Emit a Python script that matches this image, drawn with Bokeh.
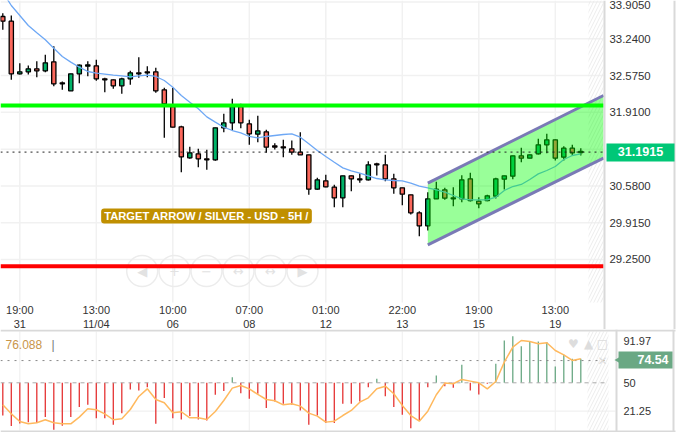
import math
from bokeh.plotting import figure
from bokeh.layouts import column
from bokeh.embed import file_html
from bokeh.resources import INLINE
from bokeh.models import Range1d, FixedTicker, NumeralTickFormatter, Label
from bokeh.core.properties import value

FONT = "Liberation Sans"

# ---- price candles (one row per bar)
opens = [33.644,33.559,32.607,32.643,32.697,32.661,32.824,32.444,32.299,32.607,32.746,32.752,32.516,32.498,32.390,32.516,32.625,32.643,32.643,32.317,32.016,31.648,31.088,31.160,31.070,31.052,31.630,31.721,32.016,31.703,31.516,31.558,31.305,31.287,31.251,31.190,31.142,30.521,30.672,30.557,30.364,30.762,30.708,30.690,30.979,30.961,30.708,30.545,30.419,30.093,29.858,30.346,30.509,30.364,30.346,30.708,30.304,30.316,30.394,30.702,30.756,31.124,31.082,31.160,31.323,31.413,31.100,31.263,31.202]
highs = [33.704,33.662,32.800,32.758,32.836,32.950,33.107,32.468,32.607,32.776,32.836,32.860,32.534,32.504,32.534,32.661,32.908,32.746,32.715,32.354,32.354,31.666,31.287,31.251,31.233,31.630,31.883,32.155,32.064,31.775,31.847,31.594,31.353,31.413,31.401,31.552,31.142,30.726,30.780,30.599,30.762,30.768,30.810,31.027,30.997,31.142,30.798,30.545,30.419,30.123,30.467,30.654,30.545,30.557,30.774,30.816,30.376,30.419,30.726,30.762,31.124,31.269,31.148,31.431,31.522,31.419,31.299,31.323,31.263]
lows = [33.403,32.498,32.595,32.595,32.547,32.637,32.384,32.317,32.299,32.438,32.565,32.480,32.275,32.336,32.245,32.408,32.534,32.547,32.263,31.449,31.636,30.829,31.070,30.919,30.871,31.034,31.552,31.582,31.624,31.323,31.371,31.178,31.238,31.100,31.142,31.142,30.419,30.509,30.557,30.196,30.196,30.485,30.636,30.678,30.768,30.666,30.437,30.232,30.063,29.671,29.774,30.346,30.328,30.214,30.286,30.298,30.178,30.304,30.352,30.515,30.702,31.009,31.082,31.148,31.172,31.040,31.040,31.130,31.130]
closes = [33.559,32.607,32.643,32.697,32.661,32.806,32.426,32.426,32.607,32.764,32.770,32.516,32.498,32.390,32.516,32.625,32.607,32.625,32.299,32.064,31.642,31.106,31.178,31.070,31.052,31.630,31.721,32.016,31.721,31.522,31.576,31.281,31.281,31.269,31.190,31.142,30.521,30.690,30.563,30.364,30.762,30.708,30.690,30.961,30.961,30.708,30.545,30.431,30.093,29.858,30.346,30.521,30.358,30.346,30.690,30.316,30.256,30.400,30.708,30.762,31.124,31.082,31.142,31.323,31.413,31.082,31.263,31.178,31.184]
sma = [34.084,33.843,33.662,33.481,33.348,33.222,33.071,32.920,32.818,32.727,32.649,32.619,32.601,32.583,32.571,32.553,32.571,32.583,32.559,32.486,32.366,32.215,32.094,31.974,31.829,31.733,31.642,31.582,31.540,31.474,31.449,31.474,31.492,31.510,31.522,31.462,31.341,31.220,31.112,31.009,30.907,30.853,30.810,30.762,30.714,30.690,30.678,30.672,30.630,30.575,30.545,30.509,30.467,30.407,30.346,30.328,30.328,30.328,30.376,30.497,30.569,30.606,30.696,30.798,30.859,30.931,31.058,31.130,31.160]

# ---- oscillator pane
stems = [16.9,6.2,8.9,10.2,9.2,15.3,2.4,6.5,15.3,25.4,27.7,14.2,14.2,7.5,19.3,43.3,42.2,45.6,8.5,34.5,14.2,12.9,16.3,12.9,11.9,37.9,41.6,55.7,39.5,33.8,38.9,24.4,31.1,28.8,27.7,22.0,7.5,16.9,9.2,9.2,28.8,28.8,31.1,45.6,54.0,36.5,25.4,17.6,4.1,11.9,45.6,57.4,46.6,44.9,68.2,42.2,38.2,49.0,69.2,92.8,97.2,87.1,91.2,91.8,91.2,66.5,78.3,74.3,74.3]
rsi = [27.7,18.6,10.9,8.5,9.5,12.6,9.5,8.5,8.5,15.3,23.7,22.7,18.6,12.6,13.6,23.0,36.2,43.9,33.1,29.8,19.6,20.7,14.6,14.6,12.9,21.0,32.1,44.6,47.3,43.9,38.2,33.1,31.8,27.7,28.8,26.4,19.3,16.3,10.2,11.2,16.9,22.0,30.4,34.8,43.9,46.6,38.9,27.1,16.9,11.2,21.3,37.9,49.7,49.0,53.4,51.7,50.0,43.9,51.3,70.9,86.1,92.8,91.8,89.5,90.5,82.7,78.3,72.6,74.3]

# ---- axes and levels
time_bars = [2, 11, 20, 29, 38, 47, 56, 65]
time_labels = ["19:00\n31", "13:00\n11/04", "10:00\n06", "07:00\n08", "01:00\n12", "22:00\n13", "19:00\n15", "13:00\n19"]
price_ticks = [33.905, 33.24, 32.575, 31.91, 30.58, 29.915, 29.25]
price_grid = [33.905, 33.24, 32.575, 31.91, 31.245, 30.58, 29.915, 29.25]
osc_ticks = [91.97, 50, 21.25]
osc_grid = [21.25]
last_price = 31.1915
last_osc = 74.54
osc_dotted = 72.5
osc_mid = 50
green_level = 32.034
red_level = 29.128
channel_x = [50, 70.67]
channel_low = [29.515, 31.082]
channel_high = [30.630, 32.215]
zoom_icons = ["\u25C0", "+", "\u2212", "\u2194", "\u2194", "\u25B6"]

GRID = "#f1f1f1"
BORDER = "#d9d9d9"
bars = list(range(len(closes)))
UP, DOWN = "#00b368", "#fb685c"


# Page-pixel helpers for the furniture of the chart (borders, tags, panes)
def X(px):
    return (px - 2.3) / 8.5


def Y(py):
    return 33.933 - py / 55.3


def V(py):
    return 50 + (382.3 - py) * 1.012


def style_axis(ax, size):
    ax.major_tick_line_color = None
    ax.minor_tick_line_color = None
    ax.axis_line_color = None
    ax.major_label_text_font = FONT
    ax.major_label_text_font_size = size
    ax.major_label_text_color = "#333333"


p = figure(width=676, height=329, output_backend="svg", toolbar_location=None,
           x_range=Range1d(X(0), X(676)), y_range=Range1d(Y(329), Y(0)),
           y_axis_location="right", min_border=0, outline_line_color=None)
p.xgrid.visible = False
p.ygrid.visible = False
p.xaxis.ticker = FixedTicker(ticks=time_bars)
p.xaxis.major_label_overrides = dict(zip(time_bars, time_labels))
p.xaxis.fixed_location = Y(295)
p.xaxis.major_label_standoff = 2
style_axis(p.xaxis[0], "11px")
p.yaxis.ticker = FixedTicker(ticks=price_ticks)
p.yaxis.formatter = NumeralTickFormatter(format="0.0000")
p.yaxis.fixed_location = X(598)
p.yaxis.major_label_standoff = 5
style_axis(p.yaxis[0], "11.4px")

p.segment([X(0)] * len(price_grid), price_grid, [X(603)] * len(price_grid), price_grid, line_color=GRID, line_width=1.5)
p.segment(time_bars, [Y(0)] * len(time_bars), time_bars, [Y(302)] * len(time_bars), line_color=GRID, line_width=1.5)
p.quad(left=[X(588)], right=[X(603)], bottom=[Y(302)], top=[Y(0)], fill_color=None, line_color=None,
       hatch_pattern="right_diagonal_line", hatch_color="#ececec", hatch_scale=7, hatch_weight=1)

zoom_px = [141.7, 174, 206, 238, 270, 302]
zoom_x = [X(v) for v in zoom_px]
zoom_y = [Y(270.6)] * 6
p.scatter(zoom_x, zoom_y, marker="circle", size=31, fill_color=None, line_color="#ececec", line_width=1.5)
p.text(zoom_x, zoom_y, text=zoom_icons, text_color="#e2e2e2", text_font=value("DejaVu Sans"),
       text_font_size="13px", text_align="center", text_baseline="middle")

body_top = [max(o, c) for o, c in zip(opens, closes)]
body_bot = [min(o, c) for o, c in zip(opens, closes)]
colors = [UP if c >= o else DOWN for o, c in zip(opens, closes)]
p.segment(bars, highs, bars, lows, line_color="black", line_width=1.3)
p.vbar(x=bars, width=0.5, top=body_top, bottom=body_bot, fill_color=colors, line_color="black", line_width=1.3)
p.line(bars, sma, line_color="#6ea8f5", line_width=1.3)

p.varea(x=channel_x, y1=channel_low, y2=channel_high, fill_color="#00ff00", fill_alpha=0.4)
p.line(channel_x, channel_low, line_color="#7a7ab6", line_width=3)
p.line(channel_x, channel_high, line_color="#7a7ab6", line_width=3)

span_x = [X(0), X(603)]
p.line(span_x, [green_level] * 2, line_color="#00ff00", line_width=4)
p.line(span_x, [red_level] * 2, line_color="#ff0000", line_width=4)
p.line(span_x, [last_price] * 2, line_color="#222222", line_width=1, line_dash="2 4")

p.add_layout(Label(x=X(206), y=Y(215.5), text="TARGET ARROW / SILVER - USD - 5H /", text_font=FONT,
                   text_font_size="11.2px", text_font_style="bold", text_color="white",
                   text_align="center", text_baseline="middle", background_fill_color="#c08f00",
                   padding=dict(left=3, right=3, top=1, bottom=2), border_radius=3))

p.quad(left=[X(603)], right=[X(605)], bottom=[Y(329)], top=[Y(0)], fill_color=BORDER, line_color=None)
p.quad(left=[X(673)], right=[X(675)], bottom=[Y(329)], top=[Y(0)], fill_color=BORDER, line_color=None)
p.quad(left=[X(606)], right=[X(674)], bottom=[Y(161)], top=[Y(143)], fill_color="#00c777", line_color=None)
p.text([X(640)], [Y(150.5)], text=["31.1915"], text_color="white", text_font=value(FONT), text_font_size="12.6px",
       text_font_style="bold", text_align="center", text_baseline="middle")

q = figure(width=676, height=103, output_backend="svg", toolbar_location=None,
           x_range=Range1d(X(0), X(676)), y_range=Range1d(V(432), V(329)),
           y_axis_location="right", x_axis_location=None, min_border=0, outline_line_color=None)
q.xgrid.visible = False
q.ygrid.visible = False
q.yaxis.ticker = FixedTicker(ticks=osc_ticks)
q.yaxis.fixed_location = X(611)
q.yaxis.major_label_standoff = 6
style_axis(q.yaxis[0], "11px")

q.segment(time_bars, [V(331)] * len(time_bars), time_bars, [V(430)] * len(time_bars), line_color=GRID, line_width=1.2)
q.segment([X(0)] * len(osc_grid), osc_grid, [X(615)] * len(osc_grid), osc_grid, line_color=GRID, line_width=1.2)
q.quad(left=[X(587)], right=[X(608)], bottom=[V(430)], top=[V(331)], fill_color=None, line_color=None,
       hatch_pattern="right_diagonal_line", hatch_color="#ececec", hatch_scale=7, hatch_weight=1)
stem_colors = ["#6aa884" if s >= osc_mid else "#e53333" for s in stems]
q.segment(bars, [osc_mid] * len(bars), bars, stems, line_color=stem_colors, line_width=1.3)
q.line([X(0), X(605)], [osc_dotted] * 2, line_color="#888888", line_width=1, line_dash="2 5")
q.line([X(0), X(607)], [osc_mid] * 2, line_color="#aaaaaa", line_width=1, line_dash="4 4")
q.line(bars, rsi, line_color="#ffb95e", line_width=1.5)

q.text([X(5)], [V(344)], text=["76.088"], text_color="#c8954a", text_font=value(FONT), text_font_size="12px",
       text_baseline="middle")
q.text([X(51)], [V(344)], text=["|"], text_color="#777777", text_font=value(FONT), text_font_size="12px",
       text_baseline="middle")
q.text([X(573), X(588), X(602), X(602)], [V(343), V(343), V(343), V(360)],
       text=["\u2665", "\u25B2", "\u25A1", "\u2715"], text_color="#dddddd", text_font=value("DejaVu Sans"),
       text_font_size="12px", text_align="center", text_baseline="middle")

q.quad(left=[X(0)], right=[X(675)], bottom=[V(331)], top=[V(329)], fill_color=BORDER, line_color=None)
q.quad(left=[X(0)], right=[X(675)], bottom=[V(432)], top=[V(430)], fill_color=BORDER, line_color=None)
q.quad(left=[X(615)], right=[X(617)], bottom=[V(432)], top=[V(329)], fill_color=BORDER, line_color=None)
q.quad(left=[X(672)], right=[X(674)], bottom=[V(432)], top=[V(329)], fill_color=BORDER, line_color=None)
q.quad(left=[X(618)], right=[X(672)], bottom=[V(368)], top=[V(351)], fill_color="#6aa884", line_color=None)
q.scatter([X(618)], [V(359.5)], marker="triangle", size=7, angle=math.pi / 2, fill_color="#6aa884", line_color=None)
q.text([X(668)], [V(359)], text=["74.54"], text_color="white", text_font=value(FONT), text_font_size="12.4px",
       text_font_style="bold", text_align="right", text_baseline="middle")

page = column(p, q, spacing=0)
open("out.html", "w").write(file_html(page, INLINE))
